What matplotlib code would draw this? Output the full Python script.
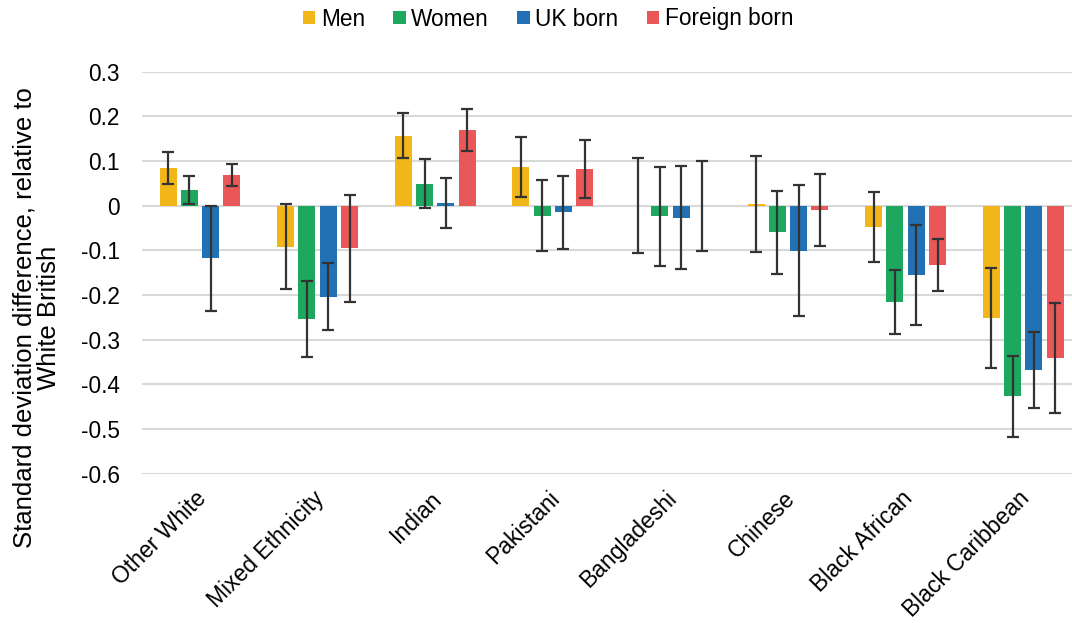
import matplotlib
matplotlib.use("Agg")
import matplotlib.pyplot as plt
import matplotlib.transforms as mtransforms
import numpy as np
from matplotlib.patches import Patch

categories = ["Other White", "Mixed Ethnicity", "Indian", "Pakistani",
              "Bangladeshi", "Chinese", "Black African", "Black Caribbean"]
series_names = ["Men", "Women", "UK born", "Foreign born"]

men = [0.084, -0.092, 0.157, 0.086, 0.0, 0.004, -0.048, -0.252]
women = [0.035, -0.253, 0.049, -0.022, -0.024, -0.060, -0.215, -0.427]
uk_born = [-0.118, -0.204, 0.006, -0.015, -0.027, -0.101, -0.156, -0.367]
foreign_born = [0.068, -0.095, 0.169, 0.083, 0.0, -0.010, -0.133, -0.341]

men_err = [0.036, 0.095, 0.050, 0.067, 0.107, 0.108, 0.079, 0.112]
women_err = [0.032, 0.085, 0.055, 0.080, 0.110, 0.094, 0.072, 0.090]
uk_born_err = [0.118, 0.075, 0.057, 0.081, 0.115, 0.147, 0.112, 0.085]
foreign_born_err = [0.025, 0.120, 0.047, 0.065, 0.101, 0.081, 0.059, 0.123]

yticks = [0.3, 0.2, 0.1, 0, -0.1, -0.2, -0.3, -0.4, -0.5, -0.6]
ytick_labels = ["0.3", "0.2", "0.1", "0", "-0.1", "-0.2", "-0.3", "-0.4", "-0.5", "-0.6"]

colors = ["#F2B619", "#1EA75E", "#2271B4", "#EA5759"]

plt.rcParams['font.family'] = ['Liberation Sans', 'DejaVu Sans']

W, H = 1072, 623
fig = plt.figure(figsize=(W / 100, H / 100), dpi=100)
left_px, right_px = 142, 1072
top_px, bot_px = 71.7, 473.7
ax = fig.add_axes([left_px / W, 1 - bot_px / H, (right_px - left_px) / W, (bot_px - top_px) / H])

x = np.arange(len(categories))
step = 0.181
width = 0.145
all_vals = [men, women, uk_born, foreign_born]
all_errs = [men_err, women_err, uk_born_err, foreign_born_err]
for i, (vals, errs, c) in enumerate(zip(all_vals, all_errs, colors)):
    pos = x + (i - 1.5) * step
    ax.bar(pos, vals, width=width, color=c, zorder=2)
    ax.errorbar(pos, vals, yerr=errs, fmt='none', ecolor='#333333',
                elinewidth=1.6, capsize=4.4, capthick=1.6, zorder=3)

ax.set_xlim(-0.493, 7.415)
ax.set_ylim(-0.6, 0.3)
ax.set_yticks(yticks)
ax.set_yticklabels(ytick_labels, fontsize=16.3)
ax.tick_params(axis='y', length=0, pad=16)
ax.tick_params(axis='x', length=0, pad=8)
ax.set_xticks(x)
ax.set_xticklabels(categories, rotation=45, ha='right', va='top',
                   rotation_mode='anchor', fontsize=16.5)
offset = mtransforms.ScaledTranslation(-5 / 100, -2 / 100, fig.dpi_scale_trans)
for lbl in ax.get_xticklabels():
    lbl.set_transform(lbl.get_transform() + offset)
ax.yaxis.grid(True, color='#D9D9D9', linewidth=1.5, zorder=0)
ax.set_axisbelow(True)
for s in ax.spines.values():
    s.set_visible(False)

fig.text(37 / W, 1 - 318 / H,
         "Standard deviation difference, relative to\nWhite British",
         rotation=90, ha='center', va='center', fontsize=18.5, linespacing=1.0)

handles = [Patch(facecolor=c, edgecolor='none') for c in colors]
fig.legend(handles, series_names, loc='center', bbox_to_anchor=(548 / W, 1 - 19 / H),
           ncol=4, frameon=False, fontsize=16.3, handlelength=0.55, handleheight=0.55,
           handletextpad=0.25, columnspacing=1.25, borderaxespad=0, borderpad=0)

fig.savefig("out.png", dpi=100)
